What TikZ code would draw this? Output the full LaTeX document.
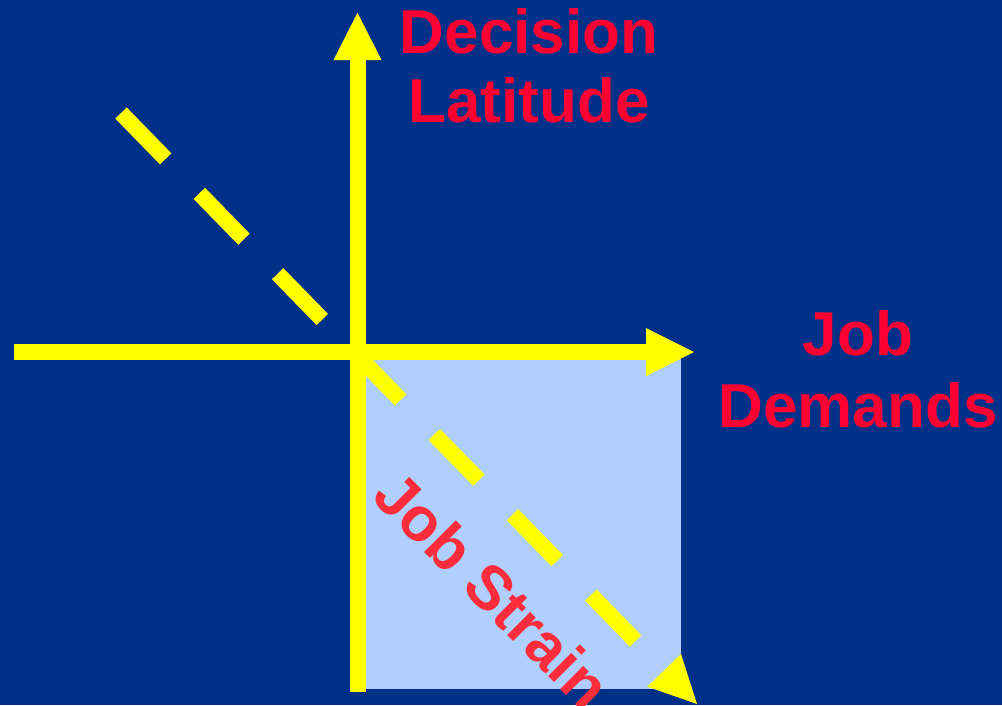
\documentclass[tikz,border=0pt]{standalone}
\usepackage{fontspec}
\setmainfont{Liberation Sans}
\usetikzlibrary{calc}
\definecolor{bgblue}{RGB}{0,48,135}
\definecolor{boxblue}{RGB}{176,207,252}
\definecolor{axisyellow}{RGB}{255,255,0}
\definecolor{labelred}{RGB}{255,0,51}
\definecolor{strainred}{RGB}{255,45,60}
\begin{document}
\begin{tikzpicture}[x=1pt,y=-1pt,
  axisline/.style={draw=axisyellow,line width=16pt},
  dashline/.style={draw=axisyellow,line width=16pt,dash pattern=on 64pt off 48.2pt},
  tipfill/.style={fill=axisyellow},
  axislabel/.style={text=labelred,font=\bfseries\fontsize{62}{69}\selectfont,align=center,inner sep=0pt},
  strainlabel/.style={text=strainred,font=\bfseries\fontsize{62}{70}\selectfont,inner sep=0pt,rotate=-45}]
\useasboundingbox (0,0) rectangle (1002,705);
\fill[bgblue] (0,0) rectangle (1002,705);
% shaded quadrant
\fill[boxblue] (357.5,352) rectangle (681,689);
% coordinates
\coordinate (vbot) at (357.5,692);
\coordinate (vbase) at (357.5,60);
\coordinate (vtip) at (357.5,12.7);
\coordinate (hleft) at (14,352);
\coordinate (hbase) at (646,352);
\coordinate (htip) at (694,352);
\coordinate (dstart) at (121,113);
\coordinate (dtip) at (697,704);
\coordinate (dbase) at ($(dtip)!47pt!(dstart)$);
% dashed strain line
\draw[dashline] (dstart) -- (dbase);
\fill[tipfill] (dtip) -- ($(dbase)!23.5pt!90:(dtip)$) -- ($(dbase)!23.5pt!-90:(dtip)$) -- cycle;
% axes
\draw[axisline] (vbot) -- (vbase);
\fill[tipfill] (vtip) -- ($(vbase)!24pt!90:(vtip)$) -- ($(vbase)!24pt!-90:(vtip)$) -- cycle;
\draw[axisline] (hleft) -- (hbase);
\fill[tipfill] (htip) -- ($(hbase)!24pt!90:(htip)$) -- ($(hbase)!24pt!-90:(htip)$) -- cycle;
% labels
\node[axislabel] (dl) at (529,66) {Decision\\Latitude};
\node[axislabel,font=\bfseries\fontsize{62}{72}\selectfont] (jd) at (858,369) {Job\\Demands};
\node[strainlabel] (js) at (493,590) {Job Strain};
\end{tikzpicture}
\end{document}
